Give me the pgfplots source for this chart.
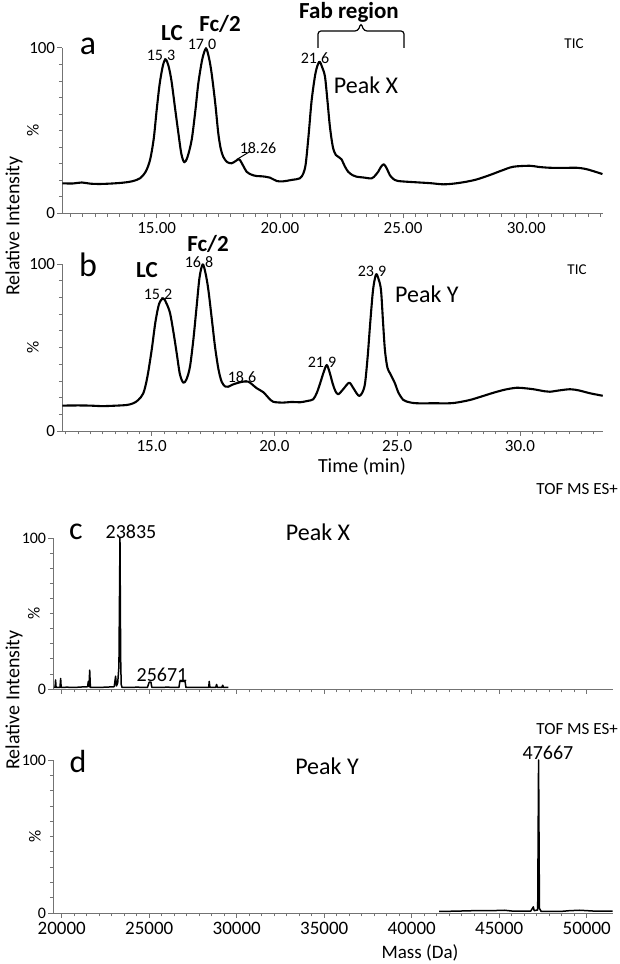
\documentclass[border=0pt]{standalone}
\usepackage{fontspec}
\setmainfont{Carlito}
\usepackage{pgfplots}
\pgfplotsset{compat=1.18}
\newcommand{\fs}[1]{\fontsize{#1}{#1}\selectfont}
\definecolor{axgray}{gray}{0.45}
\pgfplotsset{
  chrom/.style={
    scale only axis, axis lines=left,
    axis line style={-, draw=axgray, line width=0.7pt},
    tick style={draw=axgray, line width=0.6pt},
    tick align=outside, major tick length=5pt, minor tick length=3.5pt,
    ymin=0, ymax=100, ytick={0,100}, minor ytick={10,20,...,90},
    clip=false, scaled x ticks=false,
    /pgf/number format/assume math mode=true,
    yticklabel style={font=\fs{17}, inner sep=1pt, xshift=-1pt},
    xticklabel style={font=\fs{17}, inner sep=1pt, yshift=-3pt},
  },
  curve/.style={black, line width=2.1pt, smooth, tension=0.5, line join=round},
  spec/.style={black, line width=1.5pt, line join=round},
}
\begin{document}
\begin{tikzpicture}
\useasboundingbox (0pt,0pt) rectangle (620pt,964pt);

% ---------- panel a ----------
\begin{axis}[chrom, at={(62.3pt,750.7pt)}, anchor=south west,
  width=540.4pt, height=165.6pt, xmin=11.17, xmax=33.1,
  xtick={15,20,25,30}, minor xtick={11.5,12,...,33},
  xticklabel style={/pgf/number format/fixed, /pgf/number format/fixed zerofill, /pgf/number format/precision=2}]
\addplot[curve] coordinates {
(11.17,18.1)(11.6,18.0)(11.96,18.6)(12.3,17.9)(12.7,17.7)(13.2,18.0)(13.64,18.5)(14.0,19.3)(14.32,21.1)(14.55,25)(14.73,32.2)(14.88,45)(15.0,62.4)(15.12,78)(15.25,89)(15.36,93.0)(15.48,89)(15.6,80)(15.75,63)(15.88,48.5)(16.0,36)(16.12,30.8)(16.25,34)(16.42,44.3)(16.57,62)(16.69,78.5)(16.85,93)(17.0,99.5)(17.12,94)(17.23,84.5)(17.38,66)(17.5,48.3)(17.6,39)(17.7,34.2)(17.85,31)(18.04,30.2)(18.2,31.5)(18.35,32.6)(18.5,29)(18.65,25.1)(18.85,23.3)(19.06,22.5)(19.3,22.3)(19.6,21.5)(19.87,19.5)(20.13,19.3)(20.5,20.2)(20.81,21.1)(20.95,24)(21.05,30)(21.17,48)(21.29,68.4)(21.45,85)(21.6,91.5)(21.72,88)(21.83,82.5)(21.93,68)(22.03,52.3)(22.15,40)(22.27,35.2)(22.4,33.8)(22.5,32.6)(22.63,28.5)(22.77,25.1)(22.95,23)(23.11,22.1)(23.4,21.6)(23.72,21.1)(23.88,23)(23.99,25.1)(24.1,28)(24.22,29.6)(24.34,27)(24.46,23.1)(24.6,20.8)(24.8,19.5)(25.55,18.7)(26.1,18.2)(26.63,17.5)(27.1,18.0)(27.58,19.1)(28.0,20.5)(28.52,23.1)(29.0,25.8)(29.47,28.1)(30.14,28.7)(30.5,28.0)(30.95,27.5)(31.5,27.4)(32.04,27.5)(32.4,26.8)(32.71,25.5)(33.09,23.7)
};
\end{axis}

% ---------- panel b ----------
\begin{axis}[chrom, at={(62.3pt,533pt)}, anchor=south west,
  width=540.4pt, height=167pt, xmin=11.36, xmax=33.37,
  xtick={15,20,25,30}, minor xtick={11.5,12,...,33},
  xticklabel style={/pgf/number format/fixed, /pgf/number format/fixed zerofill, /pgf/number format/precision=1}]
\addplot[curve] coordinates {
(11.36,15.2)(12.0,15.3)(12.49,15.2)(13.0,14.9)(13.58,15.2)(14.0,15.6)(14.25,16.6)(14.45,18.5)(14.66,22.6)(14.82,32)(15.0,48.5)(15.15,65)(15.3,76)(15.47,79.5)(15.6,76.5)(15.75,70.5)(15.9,58)(16.02,46.5)(16.15,34)(16.29,28.9)(16.42,31)(16.56,38.5)(16.7,55)(16.83,74.4)(16.95,92)(17.08,99.8)(17.2,94)(17.31,84.4)(17.45,67)(17.58,50.5)(17.72,37)(17.85,29.5)(18.0,26.6)(18.12,26.5)(18.3,27.8)(18.53,28.9)(18.75,29.6)(18.94,29.5)(19.1,27.8)(19.28,25.6)(19.55,23.2)(19.75,20.0)(19.95,17.5)(20.36,17.0)(20.7,17.4)(21.04,17.2)(21.35,18.0)(21.58,19.0)(21.73,23)(21.86,28.5)(22.0,35)(22.13,39.5)(22.25,35)(22.37,28.5)(22.48,24)(22.6,22.0)(22.8,25)(23.04,28.9)(23.2,26)(23.35,22.5)(23.46,21.0)(23.58,23)(23.69,28.5)(23.8,45)(23.9,64.5)(24.02,85)(24.14,93.8)(24.24,91)(24.34,84.4)(24.42,66)(24.5,48.5)(24.6,38)(24.71,34.5)(24.81,31.5)(24.91,28.5)(25.05,23)(25.25,18.6)(25.5,17.2)(25.8,16.6)(26.5,16.6)(27.15,16.6)(27.5,17.2)(27.97,18.6)(28.4,20.5)(28.92,22.9)(29.4,24.8)(29.87,25.9)(30.2,25.6)(30.55,25.0)(31.0,23.8)(31.22,23.5)(31.6,24.3)(32.04,25.0)(32.4,24.3)(32.85,22.6)(33.37,21.1)
};
\end{axis}

% ---------- panel c ----------
\begin{axis}[chrom, at={(53.3pt,275pt)}, anchor=south west,
  width=559.4pt, height=151pt, xmin=19520, xmax=51486,
  xtick={20000,25000,...,50000}, xticklabels={}, minor x tick num=6,
  yticklabel style={font=\fs{16}}]
\addplot[spec] coordinates {
(19550,1)(19620,1)(19650,6)(19680,1)(19900,1)(19940,7)(19970,1)(20300,1.2)(20700,1)(21100,1.3)(21480,1.5)(21520,5)(21560,1.5)(21600,12.5)(21640,1)(22000,1)(22500,1.2)(23000,1.5)(23080,8.5)(23130,2)(23200,4)(23270,15)(23330,100)(23370,20)(23400,3)(23450,1)(23800,1)(24300,1.2)(24900,1)(25000,4.5)(25100,4.5)(25150,1)(25600,1)(26000,1.2)(26700,1)(26750,5)(27050,5)(27100,1)(27500,1)(28000,1)(28400,1)(28430,5)(28470,1)(28800,1)(28850,3)(28900,1)(29150,1)(29200,2.5)(29250,1)(29520,1)
};
\end{axis}

% ---------- panel d ----------
\begin{axis}[chrom, at={(53.3pt,51pt)}, anchor=south west,
  width=559.4pt, height=153pt, xmin=19520, xmax=51486,
  xtick={20000,25000,...,50000}, minor x tick num=6,
  xticklabel style={font=\fs{19}, /pgf/number format/1000 sep={}},
  yticklabel style={font=\fs{16}}]
\addplot[spec] coordinates {
(41570,1)(42500,1.2)(43500,1.5)(44500,1.5)(45300,1.8)(45800,1.2)(46800,1.2)(46950,4)(47000,1.5)(47200,2)(47250,100)(47300,3)(47400,1)(48500,1)(49000,1.5)(49600,1.8)(50500,1.2)(51480,1.2)
};
\end{axis}

% ---------- annotations ----------
% panel a
\node[font=\fs{34}] at (88pt,918pt) {a};
\node[font=\bfseries\fs{23}] at (172pt,931pt) {LC};
\node[font=\bfseries\fs{23}] at (220pt,940pt) {Fc/2};
\node[font=\bfseries\fs{23}] at (349pt,952pt) {Fab region};
\node[font=\fs{16}] at (161pt,909pt) {15.3};
\node[font=\fs{16}] at (202pt,919.5pt) {17.0};
\node[font=\fs{16}] at (258pt,816pt) {18.26};
\draw[line width=1pt] (237pt,804.7pt) -- (250pt,812.5pt);
\node[font=\fs{16}] at (315pt,906pt) {21.6};
\node[font=\fs{24}] at (366pt,879pt) {Peak X};
\node[font=\fs{15}] at (574pt,920pt) {TIC};
\draw[line width=1.2pt, rounded corners=3pt] (318pt,916pt) -- (318pt,933pt) -- (358pt,933pt) -- (361pt,941pt) -- (364pt,933pt) -- (404pt,933pt) -- (404pt,916pt);
% panel b
\node[font=\fs{34}] at (88pt,699pt) {b};
\node[font=\bfseries\fs{23}] at (147pt,694pt) {LC};
\node[font=\bfseries\fs{23}] at (208pt,720pt) {Fc/2};
\node[font=\fs{16}] at (199pt,702pt) {16.8};
\node[font=\fs{16}] at (158pt,670pt) {15.2};
\node[font=\fs{16}] at (242pt,587pt) {18.6};
\node[font=\fs{16}] at (322pt,602pt) {21.9};
\node[font=\fs{16}] at (372pt,693pt) {23.9};
\node[font=\fs{24}, anchor=west, inner sep=0pt] at (395pt,670pt) {Peak Y};
\node[font=\fs{15}] at (577pt,694pt) {TIC};
\node[font=\fs{20}] at (362pt,497pt) {Time (min)};
% panel c
\node[font=\fs{32}] at (76pt,432pt) {c};
\node[font=\fs{20}] at (131pt,432pt) {23835};
\node[font=\fs{24}] at (318pt,432pt) {Peak X};
\node[font=\fs{20}] at (162pt,289pt) {25671};
\node[font=\fs{17}, anchor=east, inner sep=0pt] at (618pt,475pt) {TOF MS ES+};
% panel d
\node[font=\fs{32}] at (78pt,202pt) {d};
\node[font=\fs{24}] at (327pt,198pt) {Peak Y};
\node[font=\fs{20}] at (548pt,211pt) {47667};
\node[font=\fs{17}, anchor=east, inner sep=0pt] at (618pt,235pt) {TOF MS ES+};
\node[font=\fs{19}] at (420pt,11pt) {Mass (Da)};
% axis titles
\node[rotate=90, font=\fs{20}] at (14pt,738pt) {Relative Intensity};
\node[rotate=90, font=\fs{20}] at (14pt,264pt) {Relative Intensity};
\node[rotate=90, font=\fs{17}] at (33pt,834pt) {\%};
\node[rotate=90, font=\fs{17}] at (33pt,617pt) {\%};
\node[rotate=90, font=\fs{17}] at (34pt,351pt) {\%};
\node[rotate=90, font=\fs{17}] at (35pt,128pt) {\%};
\end{tikzpicture}
\end{document}
